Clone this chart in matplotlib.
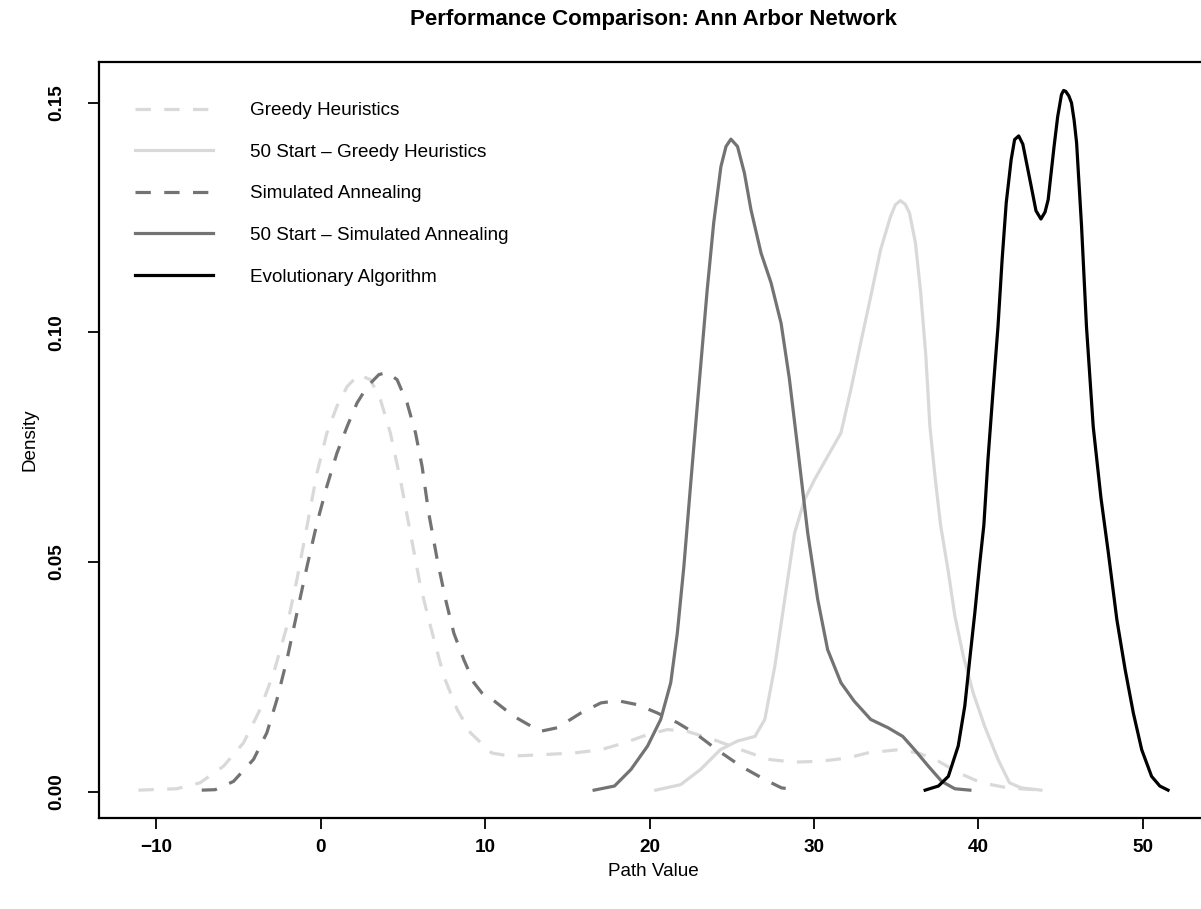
import matplotlib
matplotlib.use("Agg")
from matplotlib import pyplot as plt
from matplotlib.ticker import FormatStrFormatter

plt.rcParams['font.family'] = ['Liberation Sans', 'DejaVu Sans']

# density curves (x = path value, y = density)
gh_x = [-11.08, -8.76, -7.33, -5.91, -4.69, -3.68, -2.86, -2.05, -1.44, -0.83, -0.22, 0.38,
        0.99, 1.61, 2.31, 3.03, 3.64, 4.24, 4.85, 5.46, 6.07, 6.68, 7.49, 8.30, 9.11, 9.75,
        10.40, 11.54, 13.35, 15.41, 17.04, 18.47, 19.88, 21.09, 22.29, 23.90, 25.56, 27.22,
        28.82, 30.43, 32.04, 33.25, 35.10, 36.36, 37.57, 38.77, 40.18, 41.79, 43.80]
gh_y = [0.0003, 0.0006, 0.0019, 0.0055, 0.0106, 0.0179, 0.0258, 0.0360, 0.0462, 0.0578, 0.0694, 0.0781,
        0.0839, 0.0882, 0.0908, 0.0897, 0.0853, 0.0781, 0.0679, 0.0563, 0.0447, 0.0360, 0.0251, 0.0179, 0.0128, 0.0106,
        0.0084, 0.0077, 0.0080, 0.0084, 0.0091, 0.0106, 0.0124, 0.0135, 0.0131, 0.0113, 0.0091, 0.0070,
        0.0064, 0.0066, 0.0073, 0.0084, 0.0091, 0.0084, 0.0066, 0.0041, 0.0019, 0.0008, 0.0003]

g50_x = [20.38, 21.89, 23.10, 24.30, 25.35, 26.41, 27.01, 27.62, 28.22, 28.82, 29.43, 30.03,
         30.83, 31.64, 32.24, 32.84, 33.45, 34.05, 34.65, 34.95, 35.25, 35.55, 35.81, 36.17,
         36.48, 36.80, 37.05, 37.36, 37.70, 38.15, 38.57, 39.08, 39.68, 40.38, 41.19, 41.89,
         42.59, 43.80]
g50_y = [0.0003, 0.0015, 0.0048, 0.0091, 0.0110, 0.0120, 0.0157, 0.0273, 0.0418, 0.0563, 0.0636, 0.0679,
         0.0730, 0.0781, 0.0875, 0.0977, 0.1078, 0.1180, 0.1252, 0.1278, 0.1287, 0.1279, 0.1260, 0.1195,
         0.1090, 0.0950, 0.0795, 0.0686, 0.0580, 0.0483, 0.0382, 0.0295, 0.0215, 0.0142, 0.0070, 0.0019,
         0.0008, 0.0003]

sa_x = [-7.23, -6.41, -5.30, -4.08, -3.27, -2.66, -2.05, -1.44, -0.83, -0.22, 0.38, 0.99,
        1.61, 2.21, 2.83, 3.54, 4.04, 4.65, 5.26, 5.77, 6.17, 6.57, 7.09, 7.60, 8.10, 8.71,
        9.32, 9.80, 10.53, 11.74, 13.35, 14.40, 15.82, 17.04, 18.05, 19.28, 20.48, 21.69,
        22.89, 24.10, 25.56, 27.01, 28.02, 29.02]
sa_y = [0.0003, 0.0004, 0.0022, 0.0070, 0.0128, 0.0200, 0.0287, 0.0389, 0.0490, 0.0585, 0.0665, 0.0737,
        0.0795, 0.0846, 0.0882, 0.0908, 0.0913, 0.0897, 0.0846, 0.0781, 0.0708, 0.0607, 0.0505, 0.0418, 0.0345, 0.0287,
        0.0237, 0.0215, 0.0198, 0.0164, 0.0131, 0.0139, 0.0171, 0.0193, 0.0198, 0.0189, 0.0171, 0.0150,
        0.0124, 0.0091, 0.0055, 0.0026, 0.0008, 0.0003]

sa50_x = [16.63, 17.87, 18.87, 19.88, 20.68, 21.29, 21.69, 22.09, 22.49, 22.95, 23.50, 23.90,
          24.34, 24.65, 24.95, 25.35, 25.77, 26.17, 26.78, 27.39, 28.00, 28.50, 29.02, 29.62,
          30.23, 30.83, 31.64, 32.44, 33.45, 34.50, 35.40, 36.12, 36.96, 37.77, 38.57, 39.48]
sa50_y = [0.0003, 0.0012, 0.0048, 0.0099, 0.0157, 0.0237, 0.0345, 0.0491, 0.0665, 0.0860, 0.1090, 0.1238,
          0.1361, 0.1405, 0.1421, 0.1405, 0.1347, 0.1267, 0.1173, 0.1108, 0.1020, 0.0900, 0.0745, 0.0563,
          0.0418, 0.0309, 0.0237, 0.0197, 0.0157, 0.0139, 0.0120, 0.0091, 0.0055, 0.0022, 0.0006, 0.0003]

ea_x = [36.76, 37.57, 38.17, 38.77, 39.17, 39.47, 39.78, 40.08, 40.33, 40.58, 40.88, 41.19,
        41.44, 41.69, 41.99, 42.20, 42.45, 42.70, 42.95, 43.20, 43.50, 43.80, 44.05, 44.24,
        44.60, 44.82, 45.05, 45.18, 45.31, 45.50, 45.66, 45.82, 45.97, 46.27, 46.57, 46.98,
        47.45, 47.90, 48.42, 48.92, 49.42, 49.93, 50.53, 51.03, 51.53]
ea_y = [0.0003, 0.0012, 0.0033, 0.0099, 0.0186, 0.0287, 0.0389, 0.0497, 0.0580, 0.0723, 0.0868, 0.1013,
        0.1158, 0.1282, 0.1376, 0.1420, 0.1428, 0.1410, 0.1365, 0.1320, 0.1265, 0.1247, 0.1262, 0.1289,
        0.1405, 0.1470, 0.1518, 0.1527, 0.1525, 0.1515, 0.1500, 0.1462, 0.1413, 0.1232, 0.1013, 0.0795,
        0.0640, 0.0520, 0.0374, 0.0266, 0.0171, 0.0091, 0.0033, 0.0012, 0.0003]

labels = ['Greedy Heuristics', '50 Start \u2013 Greedy Heuristics', 'Simulated Annealing',
          '50 Start \u2013 Simulated Annealing', 'Evolutionary Algorithm']
light = '#d9d9d9'
mid = '#737373'
dash = (4.8, 4.2)
fs = 13.6

fig = plt.figure(figsize=(12.01, 9.09), dpi=100)
ax = fig.add_axes([0.0824, 0.1001, 0.9226, 0.8317])

lw = 2.3
ax.plot(gh_x, gh_y, color=light, lw=lw, dashes=dash, label=labels[0])
ax.plot(g50_x, g50_y, color=light, lw=lw, label=labels[1])
ax.plot(sa_x, sa_y, color=mid, lw=lw, dashes=dash, label=labels[2])
ax.plot(sa50_x, sa50_y, color=mid, lw=lw, label=labels[3])
ax.plot(ea_x, ea_y, color='black', lw=lw, label=labels[4])

ax.set_xlim(-13.48, 53.9)
ax.set_ylim(-0.00577, 0.1589)
ax.set_xticks([-10, 0, 10, 20, 30, 40, 50])
ax.set_yticks([0.0, 0.05, 0.10, 0.15])
ax.yaxis.set_major_formatter(FormatStrFormatter('%.2f'))
ax.tick_params(length=8, width=1.3, labelsize=fs)
ax.tick_params(axis='x', pad=7)
ax.tick_params(axis='y', pad=16)
for t in ax.get_xticklabels() + ax.get_yticklabels():
    t.set_fontweight('bold')
for t in ax.get_yticklabels():
    t.set_rotation(90)
    t.set_va('center')
for s in ax.spines.values():
    s.set_linewidth(1.6)

fig.text(653 / 1201, 1 - 871 / 909, 'Path Value', ha='center', va='center', fontsize=fs)
fig.text(30 / 1201, 1 - 440 / 909, 'Density', ha='center', va='center', rotation=90, fontsize=fs)
fig.text(653 / 1201, 1 - 19 / 909, 'Performance Comparison: Ann Arbor Network',
         ha='center', va='center', fontsize=16, fontweight='bold')

ax.legend(loc='upper left', bbox_to_anchor=(0.0325, 0.947), frameon=False, fontsize=fs,
          handlelength=4.13, handletextpad=1.96, labelspacing=1.29, borderpad=0, borderaxespad=0)

fig.savefig('out.png', dpi=100)
